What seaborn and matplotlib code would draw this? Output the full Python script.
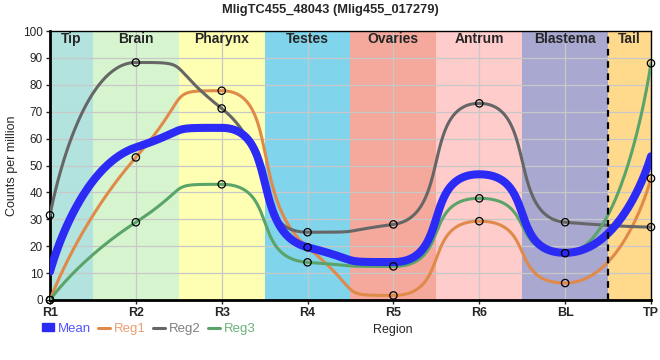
import numpy as np
import pandas as pd
import matplotlib
matplotlib.use("Agg")
import matplotlib.pyplot as plt
import seaborn as sns
from matplotlib.lines import Line2D
from matplotlib.patches import Patch

regions = ["R1", "R2", "R3", "R4", "R5", "R6", "BL", "TP"]
reg1 = [0, 53, 77.8, 19.6, 1.7, 29.3, 6.3, 45.2]
reg2 = [31.5, 88.3, 71.2, 25.2, 28.1, 73.1, 28.9, 27.1]
reg3 = [0, 28.9, 43, 14, 12.5, 37.8, 17.4, 88]
band_names = ["Tip", "Brain", "Pharynx", "Testes", "Ovaries", "Antrum", "Blastema", "Tail"]
band_colors = ["#b3e3de", "#d6f5cf", "#ffffb3", "#80d4ec", "#f4a99c", "#ffcccc", "#a9a8d1", "#ffd98c"]
title = "MligTC455_48043 (Mlig455_017279)"

mean = list(np.mean([reg1, reg2, reg3], axis=0))


def smooth_path(x, y, alpha=0.68, n=80):
    """Bezier smoothing with control points along neighbouring segments (no false extrema)."""
    x = [float(v) for v in x]; y = [float(v) for v in y]
    N = len(x)
    lc = [(x[i], y[i]) for i in range(N)]
    rc = [(x[i], y[i]) for i in range(N)]
    for i in range(1, N - 1):
        lx = (1 - alpha) * x[i] + alpha * x[i - 1]; ly = (1 - alpha) * y[i] + alpha * y[i - 1]
        rx = (1 - alpha) * x[i] + alpha * x[i + 1]; ry = (1 - alpha) * y[i] + alpha * y[i + 1]
        dy = y[i] - ry - (x[i] - rx) * (ly - ry) / (lx - rx)
        ly += dy; ry += dy
        if ly > y[i - 1] and ly > y[i]:
            ly = max(y[i - 1], y[i]); ry = 2 * y[i] - ly
        elif ly < y[i - 1] and ly < y[i]:
            ly = min(y[i - 1], y[i]); ry = 2 * y[i] - ly
        if ry > y[i + 1] and ry > y[i]:
            ry = max(y[i + 1], y[i]); ly = 2 * y[i] - ry
        elif ry < y[i + 1] and ry < y[i]:
            ry = min(y[i + 1], y[i]); ly = 2 * y[i] - ry
        lc[i] = (lx, ly); rc[i] = (rx, ry)
    t = np.linspace(0, 1, n)
    X, Y = [], []
    for i in range(N - 1):
        p0 = (x[i], y[i]); p1 = rc[i]; p2 = lc[i + 1]; p3 = (x[i + 1], y[i + 1])
        b0 = (1 - t) ** 3; b1 = 3 * (1 - t) ** 2 * t; b2 = 3 * (1 - t) * t ** 2; b3 = t ** 3
        X.append(b0 * p0[0] + b1 * p1[0] + b2 * p2[0] + b3 * p3[0])
        Y.append(b0 * p0[1] + b1 * p1[1] + b2 * p2[1] + b3 * p3[1])
    return np.concatenate(X), np.concatenate(Y)


sns.set_style("white")
plt.rcParams['font.family'] = ['Liberation Sans', 'DejaVu Sans']

fig = plt.figure(figsize=(6.6, 3.6), dpi=100)
ax = fig.add_axes([50 / 660, 1 - 300 / 360, 601 / 660, 269 / 360])

xpos = np.arange(len(regions))
edges = [0, 0.5, 1.5, 2.5, 3.5, 4.5, 5.5, 6.5, 7]
for i, (nm, c) in enumerate(zip(band_names, band_colors)):
    ax.axvspan(edges[i], edges[i + 1], color=c, lw=0, zorder=0)
    ax.text((edges[i] + edges[i + 1]) / 2, 97.0, nm, ha="center", va="center",
            fontsize=10, fontweight="bold", zorder=5)

for yv in range(10, 100, 10):
    ax.axhline(yv, color="#c8c8c8", lw=0.9, zorder=1)
for xv in xpos[1:-1]:
    ax.axvline(xv, color="#c8c8c8", lw=0.9, zorder=1)
ax.axvline(6.5, color="black", lw=1.6, ls=(0, (3, 2.5)), zorder=6)

series = [("Reg1", reg1, "#e08a4a", 2.2), ("Reg2", reg2, "#666666", 2.2),
          ("Reg3", reg3, "#5aa469", 2.2)]
for name, vals, col, lw in series:
    px, py = smooth_path(xpos, vals)
    sns.lineplot(x=px, y=py, sort=False, estimator=None, color=col, lw=lw, ax=ax, zorder=3)
px, py = smooth_path(xpos, mean)
sns.lineplot(x=px, y=py, sort=False, estimator=None, color="#2b2bf5", lw=5.8, ax=ax, zorder=4)
for name, vals, col, lw in series:
    sns.scatterplot(x=xpos, y=vals, marker="o", s=28, facecolor="none",
                    edgecolor="black", linewidth=0.9, ax=ax, zorder=7, clip_on=False)

ax.set_xlim(0, 7)
ax.set_ylim(0, 100)
ax.set_xticks(xpos)
ax.set_xticklabels(regions, fontsize=9, fontweight="bold")
ax.set_yticks(range(0, 101, 10))
ax.set_yticklabels([str(v) for v in range(0, 101, 10)], fontsize=8.5)
ax.tick_params(axis="both", length=3, width=1, pad=2, direction="out", left=True, bottom=True)
ax.set_ylabel("Counts per million", fontsize=9, labelpad=4)
ax.set_xlabel("")
for s in ["left", "bottom"]:
    ax.spines[s].set_linewidth(2)
    ax.spines[s].set_color("black")
for s in ["top", "right"]:
    ax.spines[s].set_linewidth(1)
    ax.spines[s].set_color("black")

fig.text(0.5, 1 - 10 / 360, title, ha="center", va="center", fontsize=9.3, fontweight="bold")
fig.text(393 / 660, 1 - 330 / 360, "Region", ha="center", va="center", fontsize=9)

handles = [Patch(color="#2b2bf5", label="Mean"),
           Line2D([], [], color="#e08a4a", lw=2.2, label="Reg1"),
           Line2D([], [], color="#666666", lw=2.2, label="Reg2"),
           Line2D([], [], color="#5aa469", lw=2.2, label="Reg3")]
leg = fig.legend(handles=handles, loc="center left", bbox_to_anchor=(33 / 660, 1 - 329 / 360),
                 ncol=4, frameon=False, fontsize=9.5, handlelength=0.9, handletextpad=0.25,
                 columnspacing=0.6, handleheight=0.55, borderpad=0.2,
                 labelcolor=["#5555ff", "#e8a070", "#808080", "#6ab47a"])

fig.savefig("out.png", dpi=100)
